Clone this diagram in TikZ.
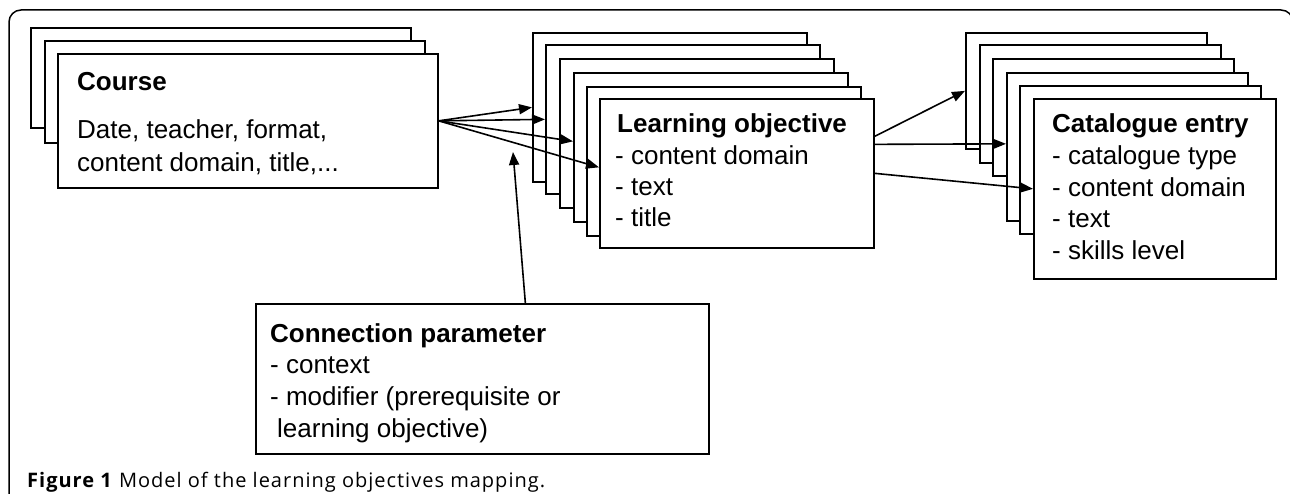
\documentclass[tikz,border=0pt]{standalone}
\usepackage{fontspec}
\setmainfont{Liberation Sans}
\newfontfamily\capfont[LetterSpace=5]{Open Sans}
\usetikzlibrary{arrows.meta,shadows}
\begin{document}
\begin{tikzpicture}[x=1pt,y=-1pt,
  card/.style={draw, fill=white, line width=1.7pt, anchor=north west, inner sep=0pt},
  frontcard/.style={card, drop shadow={shadow xshift=1.5pt, shadow yshift=-1.5pt, fill=black!45, opacity=1}},
  txt/.style={anchor=base west, inner sep=0pt, font=\fontsize{26}{30}\selectfont},
  hd/.style={anchor=base west, inner sep=0pt, font=\fontsize{26}{30}\selectfont\bfseries},
  arr/.style={line width=1.6pt, -{Triangle[length=13pt,width=10pt]}},
  frame/.style={line width=1.5pt, rounded corners=12pt}]
\useasboundingbox (0,0) rectangle (1290,494);
\draw[frame] (9,10) rectangle (1293,530);
% Course stack
\node[card, minimum width=380pt, minimum height=100pt] (c1) at (30,27) {};
\node[card, minimum width=380pt, minimum height=102pt] (c2) at (44,40) {};
\node[frontcard, minimum width=380pt, minimum height=134pt] (course) at (57,53) {};
\node[hd] (courseT) at (77,91) {Course};
\node[txt] (courseA) at (77,139) {Date, teacher, format,};
\node[txt] (courseB) at (77,172) {content domain, title,...};
% Learning objective stack
\foreach \i/\x/\yy in {1/532/32,2/545/44,3/559/58,4/573/72,5/586/86}
  \node[card, minimum width=274pt, minimum height=149pt] (lo\i) at (\x,\yy) {};
\node[frontcard, minimum width=274pt, minimum height=149pt] (lo) at (599,98) {};
\node[hd] (loT) at (617,133) {Learning objective};
\node[txt] (loA) at (615,165) {- content domain};
\node[txt] (loB) at (615,196) {- text};
\node[txt] (loC) at (615,227) {- title};
% Catalogue stack
\node[card, minimum width=241pt, minimum height=116pt] (k1) at (965,32) {};
\node[card, minimum width=241pt, minimum height=118pt] (k2) at (979,44) {};
\node[card, minimum width=241pt, minimum height=117pt] (k3) at (992,58) {};
\node[card, minimum width=241pt, minimum height=148pt] (k4) at (1006,72) {};
\node[card, minimum width=241pt, minimum height=148pt] (k5) at (1019,85) {};
\node[frontcard, minimum width=242pt, minimum height=180pt] (cat) at (1033,98) {};
\node[hd] (catT) at (1052,133) {Catalogue entry};
\node[txt] (catA) at (1052,165) {- catalogue type};
\node[txt] (catB) at (1052,197) {- content domain};
\node[txt] (catC) at (1052,228) {- text};
\node[txt] (catD) at (1052,260) {- skills level};
% Connection parameter
\node[frontcard, minimum width=453pt, minimum height=150pt] (conn) at (255,303) {};
\node[hd] (connT) at (270,342) {Connection parameter};
\node[txt] (connA) at (270,373) {- context};
\node[txt] (connB) at (270,405) {- modifier (prerequisite or};
\node[txt] (connC) at (277,437) {learning objective)};
% Arrows
\draw[arr] (course.east) -- (lo1.west);
\draw[arr] (course.east) -- (lo2.west);
\draw[arr] (course.east) -- ([yshift=6pt]lo4.west);
\draw[arr] (course.east) -- ([yshift=6pt]lo.west);
\coordinate (cp) at (513,152);
\draw[arr] ([xshift=43pt]conn.north) -- (cp);
\draw[arr] ([yshift=37pt]lo.east) -- (k1.west);
\draw[arr] ([yshift=29pt]lo.east) -- ([yshift=3pt]k4.west);
\draw[arr] (lo.east) -- (cat.west);
% Caption
\node[anchor=base west, inner sep=0pt, font=\capfont\fontsize{20}{24}\selectfont] (cap) at (27,487) {\textbf{Figure 1} Model of the learning objectives mapping.};
\end{tikzpicture}
\end{document}
